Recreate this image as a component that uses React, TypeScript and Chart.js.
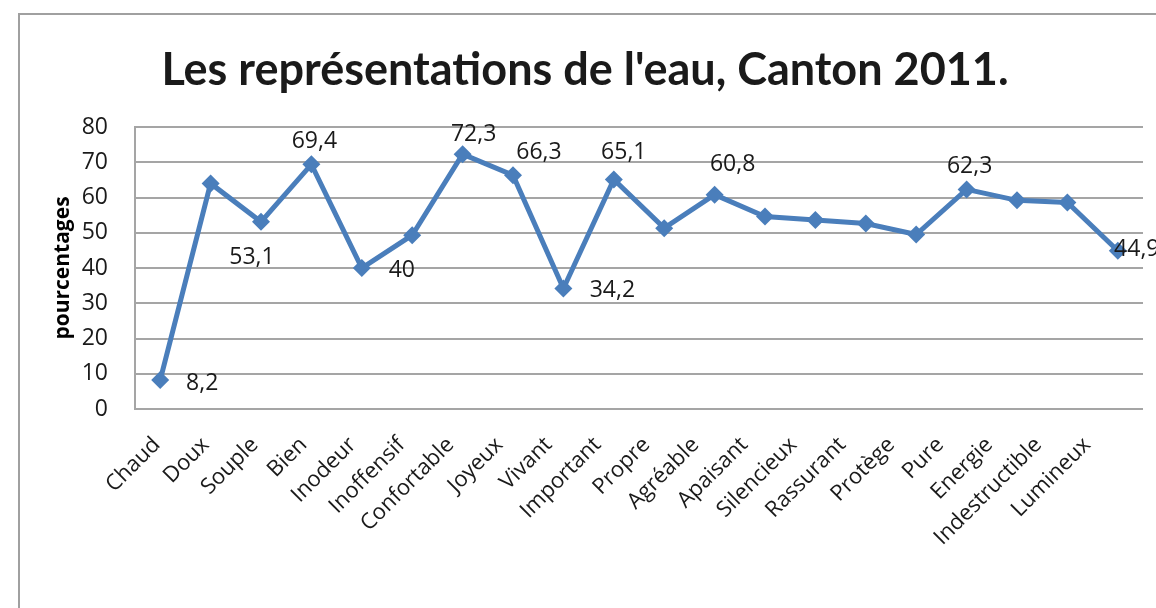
import React, { useEffect, useRef } from "react";
import { Chart, registerables } from "chart.js";

Chart.register(...registerables);

const categories = [
  "Chaud", "Doux", "Souple", "Bien", "Inodeur", "Inoffensif", "Confortable", "Joyeux",
  "Vivant", "Important", "Propre", "Agréable", "Apaisant", "Silencieux", "Rassurant",
  "Protège", "Pure", "Energie", "Indestructible", "Lumineux",
];

const values = [
  8.2, 64.0, 53.1, 69.4, 40, 49.3, 72.3, 66.3, 34.2, 65.1, 51.3, 60.8, 54.6, 53.6, 52.6,
  49.5, 62.3, 59.2, 58.6, 44.9,
];

// points that carry a data label (label offset from the point, in px)
const labelOffsets: ([number, number] | null)[] = [
  [42, 3], null, [-9, 36], [3, -23], [40, 2], null, [11, -20], [26, -23], [49, 2], [10, -27],
  null, [18, -30], null, null, null, null, [3, -23], null, null, [19, -1],
];

const titleText = "Les représentations de l'eau, Canton 2011.";
const yAxisTitle = "pourcentages";
const yTicks = [0, 10, 20, 30, 40, 50, 60, 70, 80];

const FONT = "'Open Sans', sans-serif";
const GRID = "#a5a5a5";

const decorPlugin = {
  id: "decor",
  beforeDraw(chart: any) {
    const ctx = chart.ctx;
    ctx.save();
    ctx.fillStyle = "#ffffff";
    ctx.fillRect(0, 0, chart.width, chart.height);
    ctx.strokeStyle = "#a0a0a0";
    ctx.lineWidth = 2;
    ctx.beginPath();
    ctx.moveTo(19, chart.height);
    ctx.lineTo(19, 14);
    ctx.lineTo(chart.width, 14);
    ctx.stroke();
    ctx.restore();
  },
  afterDraw(chart: any) {
    const ctx = chart.ctx;
    const area = chart.chartArea;
    ctx.save();
    // title
    ctx.fillStyle = "#1a1a1a";
    ctx.font = `bold 45px Lato, sans-serif`;
    ctx.textAlign = "center";
    ctx.textBaseline = "middle";
    ctx.fillText(titleText, 585, 70);
    // y axis title
    ctx.save();
    ctx.translate(63, (area.top + area.bottom) / 2);
    ctx.rotate(-Math.PI / 2);
    ctx.font = `bold 21px ${FONT}`;
    ctx.fillStyle = "#000000";
    ctx.fillText(yAxisTitle, 0, 0);
    ctx.restore();
    // data labels
    const meta = chart.getDatasetMeta(0);
    ctx.font = `23px ${FONT}`;
    ctx.fillStyle = "#1a1a1a";
    ctx.textAlign = "center";
    ctx.textBaseline = "middle";
    meta.data.forEach((pt: any, i: number) => {
      const off = labelOffsets[i];
      if (!off) return;
      const txt = String(values[i]).replace(".", ",");
      ctx.fillText(txt, pt.x + off[0], pt.y + off[1]);
    });
    ctx.restore();
  },
};

export default function App() {
  const ref = useRef<HTMLCanvasElement | null>(null);
  useEffect(() => {
    if (!ref.current) return;
    const chart = new Chart(ref.current, {
      type: "line",
      data: {
        labels: categories,
        datasets: [
          {
            data: values,
            xAxisID: "x",
            borderColor: "#4a7ebb",
            backgroundColor: "#4a7ebb",
            borderWidth: 5,
            pointStyle: "rectRot",
            pointRadius: 9,
            pointBorderWidth: 0,
            pointBackgroundColor: "#4a7ebb",
            tension: 0,
          },
        ],
      },
      options: {
        animation: false,
        responsive: false,
        layout: { padding: { top: 127, left: 0, right: 13, bottom: 0 } },
        plugins: { legend: { display: false }, title: { display: false }, tooltip: { enabled: false } },
        scales: {
          x: {
            type: "category",
            offset: true,
            grid: { display: false, drawTicks: false },
            border: { display: false },
            ticks: { display: false },
            afterFit(scale: any) {
              scale.height = 0;
            },
          },
          xLabels: {
            type: "linear",
            position: "bottom",
            min: -0.445,
            max: 20.14,
            afterBuildTicks(scale: any) {
              scale.ticks = categories.map((_, i) => ({ value: i }));
            },
            grid: { display: false, drawTicks: false },
            border: { display: false },
            ticks: {
              autoSkip: false,
              minRotation: 45,
              maxRotation: 45,
              padding: 23,
              color: "#1a1a1a",
              font: { family: "'Open Sans', sans-serif", size: 22 },
              callback: (v: any) => categories[Number(v)] ?? "",
            },
            afterFit(scale: any) {
              scale.height = 199;
            },
          },
          y: {
            min: 0,
            max: 80,
            afterBuildTicks(scale: any) {
              scale.ticks = yTicks.map((v) => ({ value: v }));
            },
            grid: { color: GRID, lineWidth: 2, drawTicks: false },
            border: { display: true, color: GRID, width: 2 },
            ticks: {
              padding: 27,
              color: "#1a1a1a",
              font: { family: "'Open Sans', sans-serif", size: 23 },
            },
            afterFit(scale: any) {
              scale.width = 135;
            },
          },
        },
      },
      plugins: [decorPlugin],
    });
    return () => chart.destroy();
  }, []);
  return (
    <div style={{ position: "fixed", left: 0, top: 0, width: 1156, height: 608, background: "#fff" }}>
      <canvas ref={ref} width={1156} height={608} style={{ display: "block" }} />
    </div>
  );
}
